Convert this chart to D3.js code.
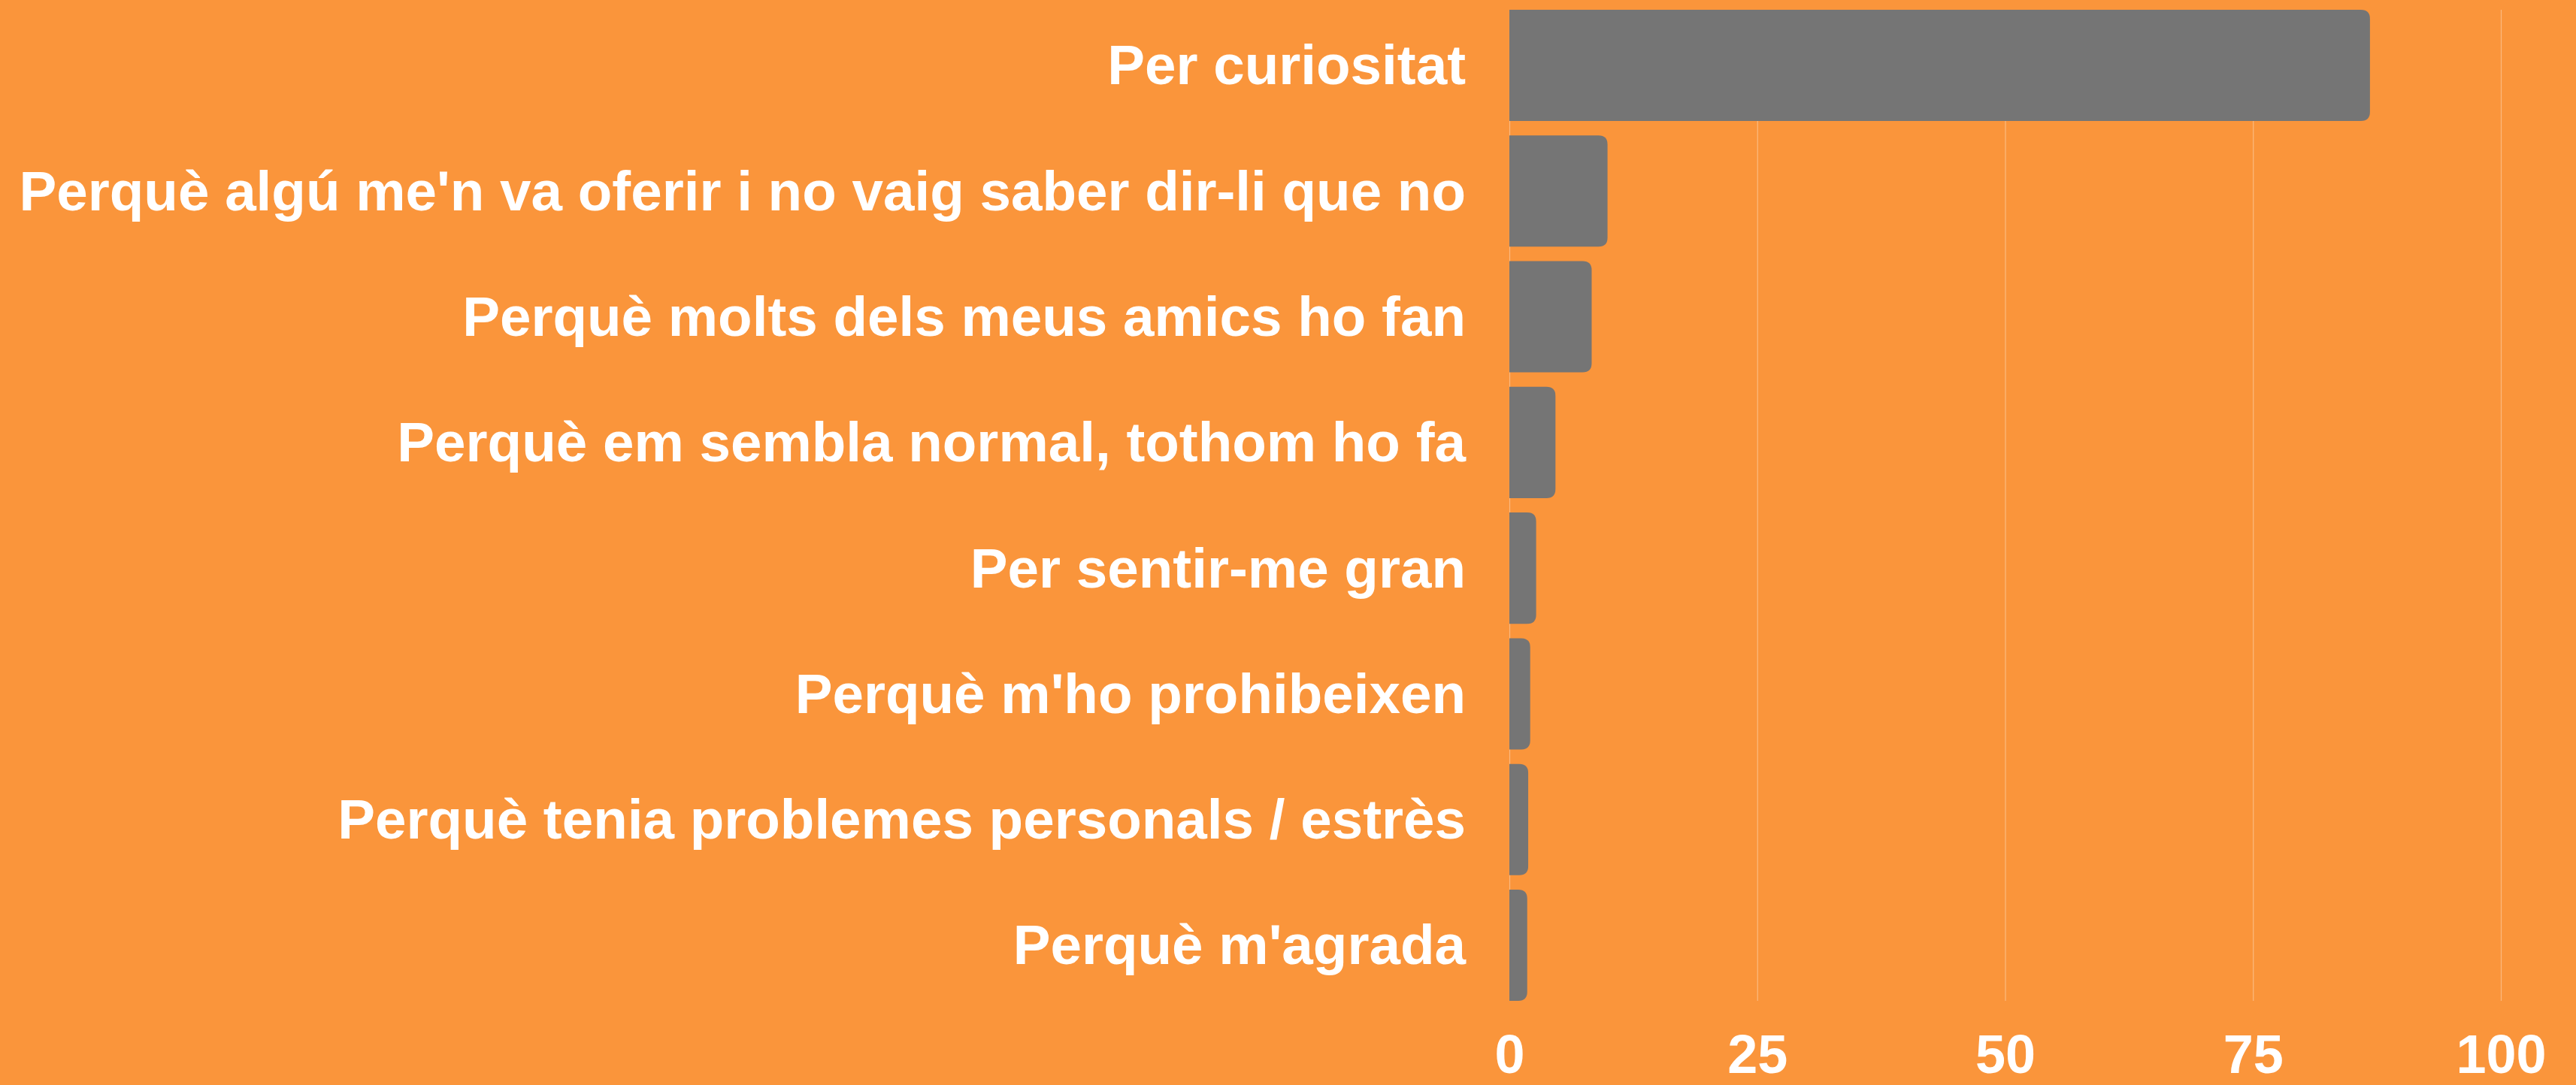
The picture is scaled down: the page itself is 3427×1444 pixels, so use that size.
<!DOCTYPE html>
<html>
<head>
<meta charset="utf-8">
<script src="https://cdn.jsdelivr.net/npm/d3@7"></script>
<style>
  html, body { margin: 0; padding: 0; background: #FA953B; }
  svg { display: block; }
</style>
</head>
<body>
<svg id="chart" width="3427" height="1444"></svg>
<script>
const categories = [
  "Per curiositat",
  "Perquè algú me'n va oferir i no vaig saber dir-li que no",
  "Perquè molts dels meus amics ho fan",
  "Perquè em sembla normal, tothom ho fa",
  "Per sentir-me gran",
  "Perquè m'ho prohibeixen",
  "Perquè tenia problemes personals / estrès",
  "Perquè m'agrada"
];
const values = [86.8, 9.9, 8.3, 4.65, 2.7, 2.1, 1.9, 1.8];
const tickValues = [0, 25, 50, 75, 100];

const W = 3427, H = 1444;
const margin = { left: 2008, right: 100, top: 13, bottom: 112 };
const svg = d3.select("#chart");
svg.append("rect").attr("width", W).attr("height", H).attr("fill", "#FA953B");

const x = d3.scaleLinear().domain([0, 100]).range([margin.left, 3327]);
const y = d3.scaleBand().domain(categories)
  .range([margin.top, 1332]).paddingInner(0.115).paddingOuter(0);

const font = "'Liberation Sans', Arial, sans-serif";

// grid lines
svg.append("g").selectAll("line").data(tickValues).join("line")
  .attr("x1", d => x(d) + 0.5).attr("x2", d => x(d) + 0.5)
  .attr("y1", margin.top).attr("y2", 1332)
  .attr("stroke", "rgba(255,255,255,0.35)").attr("stroke-width", 1.2);

// bars with rounded right corners
const r = 12;
function barPath(d, i) {
  const x0 = x(0), x1 = x(d), y0 = y(categories[i]), h = y.bandwidth();
  const rr = Math.min(r, (x1 - x0), h / 2);
  return `M${x0},${y0} H${x1 - rr} Q${x1},${y0} ${x1},${y0 + rr} V${y0 + h - rr} Q${x1},${y0 + h} ${x1 - rr},${y0 + h} H${x0} Z`;
}
svg.append("g").selectAll("path").data(values).join("path")
  .attr("d", (d, i) => barPath(d, i))
  .attr("fill", "#757575");

// category labels
const yAxis = d3.axisLeft(y).tickSize(0).tickPadding(58);
const ga = svg.append("g").attr("transform", `translate(${margin.left},0)`).call(yAxis);
ga.select(".domain").remove();
ga.selectAll("text")
  .attr("fill", "#ffffff")
  .attr("font-family", font)
  .attr("font-weight", "bold")
  .attr("font-size", 74.6)
  .attr("dy", "0.34em");

// x axis tick labels
const xAxis = d3.axisBottom(x).tickValues(tickValues).tickSize(0).tickPadding(0);
const gx = svg.append("g").attr("transform", `translate(0,1376)`).call(xAxis);
gx.select(".domain").remove();
gx.selectAll("text")
  .attr("fill", "#ffffff")
  .attr("font-family", font)
  .attr("font-weight", "bold")
  .attr("font-size", 72)
  .attr("dy", "0.72em");
</script>
</body>
</html>
